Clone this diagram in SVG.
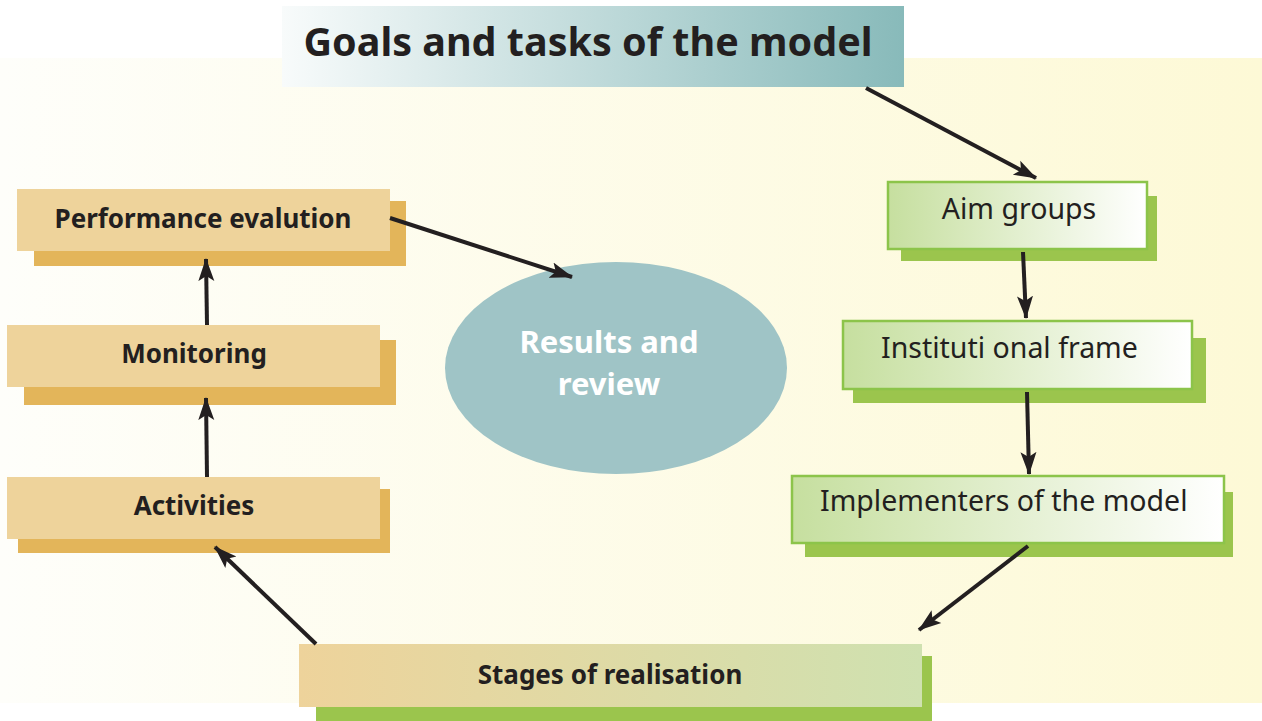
<svg xmlns="http://www.w3.org/2000/svg" width="1262" height="721" viewBox="0 0 1262 721">
<defs>
<linearGradient id="bg" x1="0" y1="0" x2="1" y2="0"><stop offset="0" stop-color="#fefefa"/><stop offset="1" stop-color="#fdf9d6"/></linearGradient>
<linearGradient id="tg" x1="0" y1="0" x2="1" y2="0"><stop offset="0" stop-color="#f8fbfb"/><stop offset="1" stop-color="#88baba"/></linearGradient>
<linearGradient id="gg" x1="0" y1="0" x2="1" y2="0"><stop offset="0" stop-color="#c6df9f"/><stop offset="1" stop-color="#ffffff"/></linearGradient>
<linearGradient id="sg" x1="0" y1="0" x2="1" y2="0"><stop offset="0" stop-color="#eed39b"/><stop offset="1" stop-color="#cfe1b0"/></linearGradient>
<marker id="ah" markerUnits="userSpaceOnUse" markerWidth="24" markerHeight="18" viewBox="0 0 24 18" refX="22" refY="9" orient="auto">
<path d="M0,1 L23,9 L0,17 L5,9 z" fill="#231f20"/>
</marker>
<style>
.orf{fill:#eed39b}.ors{fill:#e3b55a}
.grf{fill:url(#gg);stroke:#8cc44a;stroke-width:2.5}.grs{fill:#9bc54d}
.lb{font-family:"Noto Sans","Open Sans",sans-serif;font-weight:bold;font-size:26px;fill:#231f20;text-anchor:middle}
.lr{font-family:"Noto Sans","Open Sans",sans-serif;font-size:28.5px;fill:#231f20}
.cn line{stroke:#231f20;stroke-width:4;marker-end:url(#ah)}
</style>
</defs>
<rect x="0" y="0" width="1262" height="721" fill="#ffffff"/>
<rect x="0" y="58" width="1262" height="645" fill="url(#bg)"/>
<g id="title">
<rect x="282" y="6" width="622" height="81" fill="url(#tg)"/>
<text x="588" y="56" style="font-family:'Noto Sans','Open Sans',sans-serif;font-weight:bold;font-size:39.5px;fill:#231f20;text-anchor:middle">Goals and tasks of the model</text>
</g>
<g id="perf">
<rect class="ors" x="34" y="201" width="372" height="65"/>
<rect class="orf" x="17" y="189" width="373" height="62"/>
<text class="lb" x="203" y="228">Performance evalution</text>
</g>
<g id="monitoring">
<rect class="ors" x="24" y="340" width="372" height="65"/>
<rect class="orf" x="7" y="325" width="373" height="62"/>
<text class="lb" x="194" y="363">Monitoring</text>
</g>
<g id="activities">
<rect class="ors" x="18" y="489" width="372" height="64"/>
<rect class="orf" x="7" y="477" width="373" height="62"/>
<text class="lb" x="194" y="515">Activities</text>
</g>
<g id="stages">
<rect class="grs" x="316" y="656" width="616" height="65"/>
<rect x="299" y="644" width="623" height="63" fill="url(#sg)"/>
<text class="lb" x="610" y="684">Stages of realisation</text>
</g>
<g id="results">
<ellipse cx="616" cy="368" rx="171" ry="106" fill="#9fc4c6"/>
<text x="609" y="353" style="font-family:'Noto Sans','Open Sans',sans-serif;font-weight:bold;font-size:31px;fill:#ffffff;text-anchor:middle">Results and</text>
<text x="609" y="395" style="font-family:'Noto Sans','Open Sans',sans-serif;font-weight:bold;font-size:31px;fill:#ffffff;text-anchor:middle">review</text>
</g>
<g id="aim">
<rect class="grs" x="901" y="196" width="256" height="65"/>
<rect class="grf" x="888" y="182" width="259" height="67"/>
<text class="lr" x="1019" y="219" text-anchor="middle">Aim groups</text>
</g>
<g id="institutional">
<rect class="grs" x="853" y="338" width="353" height="65"/>
<rect class="grf" x="843" y="321" width="349" height="68"/>
<text class="lr" x="881" y="358">Instituti onal frame</text>
</g>
<g id="implementers">
<rect class="grs" x="805" y="492" width="428" height="65"/>
<rect class="grf" x="792" y="476" width="432" height="67"/>
<text class="lr" x="820" y="511">Implementers of the model</text>
</g>
<g class="cn" id="connectors">
<line x1="866" y1="88" x2="1036" y2="178"/>
<line x1="390" y1="218" x2="572" y2="277"/>
<line x1="1023" y1="252" x2="1026" y2="318"/>
<line x1="1027" y1="392" x2="1029" y2="474"/>
<line x1="1028" y1="546" x2="919" y2="630"/>
<line x1="316" y1="644" x2="215" y2="547"/>
<line x1="207" y1="477" x2="206" y2="398"/>
<line x1="207" y1="325" x2="206" y2="259"/>
</g>
</svg>
